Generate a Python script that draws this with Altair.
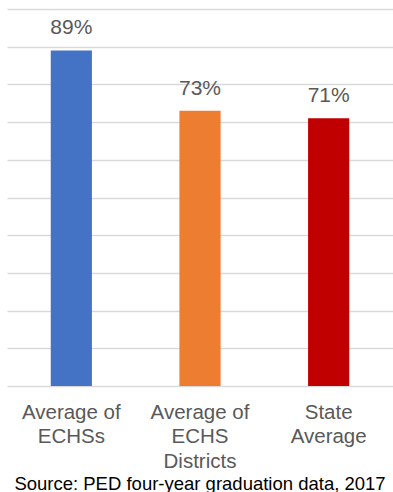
import altair as alt
import pandas as pd

categories = ["Average of|ECHSs", "Average of|ECHS|Districts", "State|Average"]
values = [89, 73, 71]
colors = ["#4472C4", "#ED7D31", "#C00000"]
y_ticks = [0, 10, 20, 30, 40, 50, 60, 70, 80, 90, 100]
source_text = "Source: PED four-year graduation data, 2017"

df = pd.DataFrame({"category": categories, "value": values, "color": colors})

FONT = "Liberation Sans"
TEXT_COLOR = "#595959"

x_enc = alt.X(
    "category:N",
    sort=categories,
    scale=alt.Scale(paddingInner=0.68, paddingOuter=0.34),
    axis=alt.Axis(
        title=None,
        labelAngle=0,
        labelExpr="split(datum.label, '|')",
        labelFont=FONT,
        labelFontSize=20.5,
        labelLineHeight=24.5,
        labelColor=TEXT_COLOR,
        labelBaseline="top",
        labelPadding=16,
        ticks=False,
        tickSize=0,
        domain=False,
        grid=False,
    ),
)

y_enc = alt.Y(
    "value:Q",
    scale=alt.Scale(domain=[0, 100], nice=False),
    axis=alt.Axis(
        title=None,
        values=y_ticks,
        tickCount=11,
        labels=False,
        ticks=False,
        domain=False,
        grid=True,
        gridColor="#d9d9d9",
        gridWidth=1.3,
    ),
)

base = alt.Chart(df)

bars = base.mark_bar().encode(
    x=x_enc,
    y=y_enc,
    color=alt.Color("color:N", scale=None, legend=None),
)

labels = base.transform_calculate(
    lbl="datum.value + '%'"
).mark_text(
    font=FONT, fontSize=21, color=TEXT_COLOR, baseline="alphabetic", dy=-16
).encode(
    x=x_enc,
    y=y_enc,
    text="lbl:N",
)

chart = (
    alt.layer(bars, labels)
    .properties(
        width=386,
        height=377,
        autosize=alt.AutoSizeParams(type="none"),
        padding={"left": 7, "top": 9, "right": 0, "bottom": 106},
        title=alt.TitleParams(
            text=source_text,
            orient="bottom",
            anchor="middle",
            font=FONT,
            fontSize=18.5,
            fontWeight="normal",
            color="#000000",
            offset=3,
        ),
    )
    .configure_view(stroke=None)
)

chart.save("out.html", embed_options={"renderer": "svg", "actions": False})
